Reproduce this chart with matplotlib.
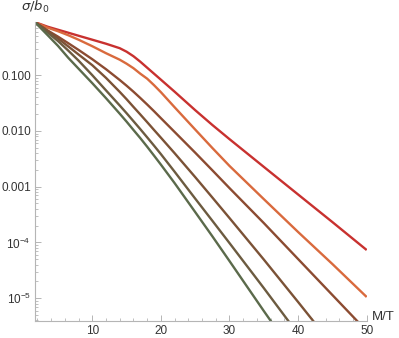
import matplotlib
matplotlib.use("Agg")
import matplotlib.pyplot as plt
from matplotlib.ticker import MultipleLocator, LogLocator, NullFormatter

plt.rcParams['font.family'] = ['Liberation Sans', 'DejaVu Sans']
plt.rcParams['mathtext.fontset'] = 'dejavusans'

# values (sigma/b0 vs M/T)
x_full = [1.65, 2.5, 3.5, 5, 6.5, 8, 10, 12, 14, 15, 16, 17, 18, 19, 20, 22, 25,
          27.5, 30, 35, 40, 45, 50]

red = [0.891, 0.820, 0.740, 0.654, 0.578, 0.510, 0.433, 0.367, 0.305, 0.264, 0.219,
       0.1745, 0.1362, 0.1064, 0.0831, 0.0506, 0.0236, 0.0128, 0.00713, 0.00227,
       7.25e-4, 2.32e-4, 7.31e-5]
orange = [0.891, 0.804, 0.710, 0.615, 0.521, 0.433, 0.331, 0.248, 0.1896, 0.1608,
          0.1335, 0.1064, 0.0866, 0.0662, 0.0496, 0.0266, 0.0106, 0.00495, 0.00236,
          5.99e-4, 1.54e-4, 4.10e-5, 1.05e-5]
rust = [0.891, 0.762, 0.633, 0.492, 0.375, 0.284, 0.1935, 0.1281, 0.0820, 0.0648,
        0.0506, 0.0390, 0.0298, 0.0226, 0.01696, 0.00960, 0.00408, 0.00197, 9.44e-4,
        2.23e-4, 5.04e-5, 1.14e-5, 2.58e-6]
brown = [0.891, 0.755, 0.620, 0.455, 0.328, 0.235, 0.1511, 0.0895, 0.0502, 0.0371,
         0.0270, 0.01975, 0.01438, 0.01042, 0.00758, 0.00399, 0.001486, 6.40e-4,
         2.74e-4, 4.94e-5, 8.55e-6, 1.45e-6]
olive = [0.891, 0.734, 0.582, 0.410, 0.276, 0.1826, 0.100, 0.0534, 0.0286, 0.0208,
         0.01498, 0.01077, 0.00768, 0.00545, 0.00384, 0.001857, 6.12e-4, 2.45e-4,
         9.75e-5, 1.52e-5, 2.28e-6]
green = [0.891, 0.696, 0.521, 0.336, 0.205, 0.1308, 0.0719, 0.0387, 0.0204, 0.01468,
         0.01042, 0.00743, 0.00521, 0.00361, 0.00249, 0.00116, 3.51e-4, 1.29e-4,
         4.64e-5, 5.90e-6, 7.8e-7]

series = [red, orange, rust, brown, olive, green]
colors = ['#c8312f', '#d96a3d', '#8c4b31', '#7b5236', '#6c5b40', '#5b6a4b']

ytick_vals = [0.1, 0.01, 0.001, 1e-4, 1e-5]
ytick_labels = ['0.100', '0.010', '0.001', r'$\mathregular{10^{-4}}$', r'$\mathregular{10^{-5}}$']
xtick_vals = [10, 20, 30, 40, 50]

fig = plt.figure(figsize=(3.99, 3.38), dpi=100)
ax = fig.add_axes([35 / 399, 17 / 338, 331.7 / 399, 299 / 338])

for ys, c in zip(series, colors):
    ax.plot(x_full[:len(ys)], ys, color=c, lw=1.7, solid_capstyle='butt',
            solid_joinstyle='round')

ax.set_yscale('log')
ax.set_xlim(1.65, 50)
ax.set_ylim(3.9e-6, 0.9)

axis_grey = '#b5b5b5'
for s in ['top', 'right']:
    ax.spines[s].set_visible(False)
for s in ['left', 'bottom']:
    ax.spines[s].set_color(axis_grey)
    ax.spines[s].set_linewidth(0.8)

ax.set_xticks(xtick_vals)
ax.xaxis.set_minor_locator(MultipleLocator(2))
ax.set_yticks(ytick_vals)
ax.set_yticklabels(ytick_labels)
ax.yaxis.set_minor_locator(LogLocator(base=10, subs=range(2, 10)))
ax.yaxis.set_minor_formatter(NullFormatter())

ax.tick_params(which='major', direction='in', length=4, width=0.7, color=axis_grey,
               labelsize=8.5, labelcolor='#333333', pad=3)
ax.tick_params(which='minor', direction='in', length=2, width=0.6, color=axis_grey)

ax.annotate(r'$\sigma/b_0$', xy=(0, 1), xycoords='axes fraction', xytext=(0, 5),
            textcoords='offset points', ha='center', va='bottom', fontsize=9.5, color='#333333')
ax.annotate('M/T', xy=(1, 0), xycoords='axes fraction', xytext=(4, 3),
            textcoords='offset points', ha='left', va='center', fontsize=9.5, color='#333333')

fig.savefig('out.png', dpi=100)
